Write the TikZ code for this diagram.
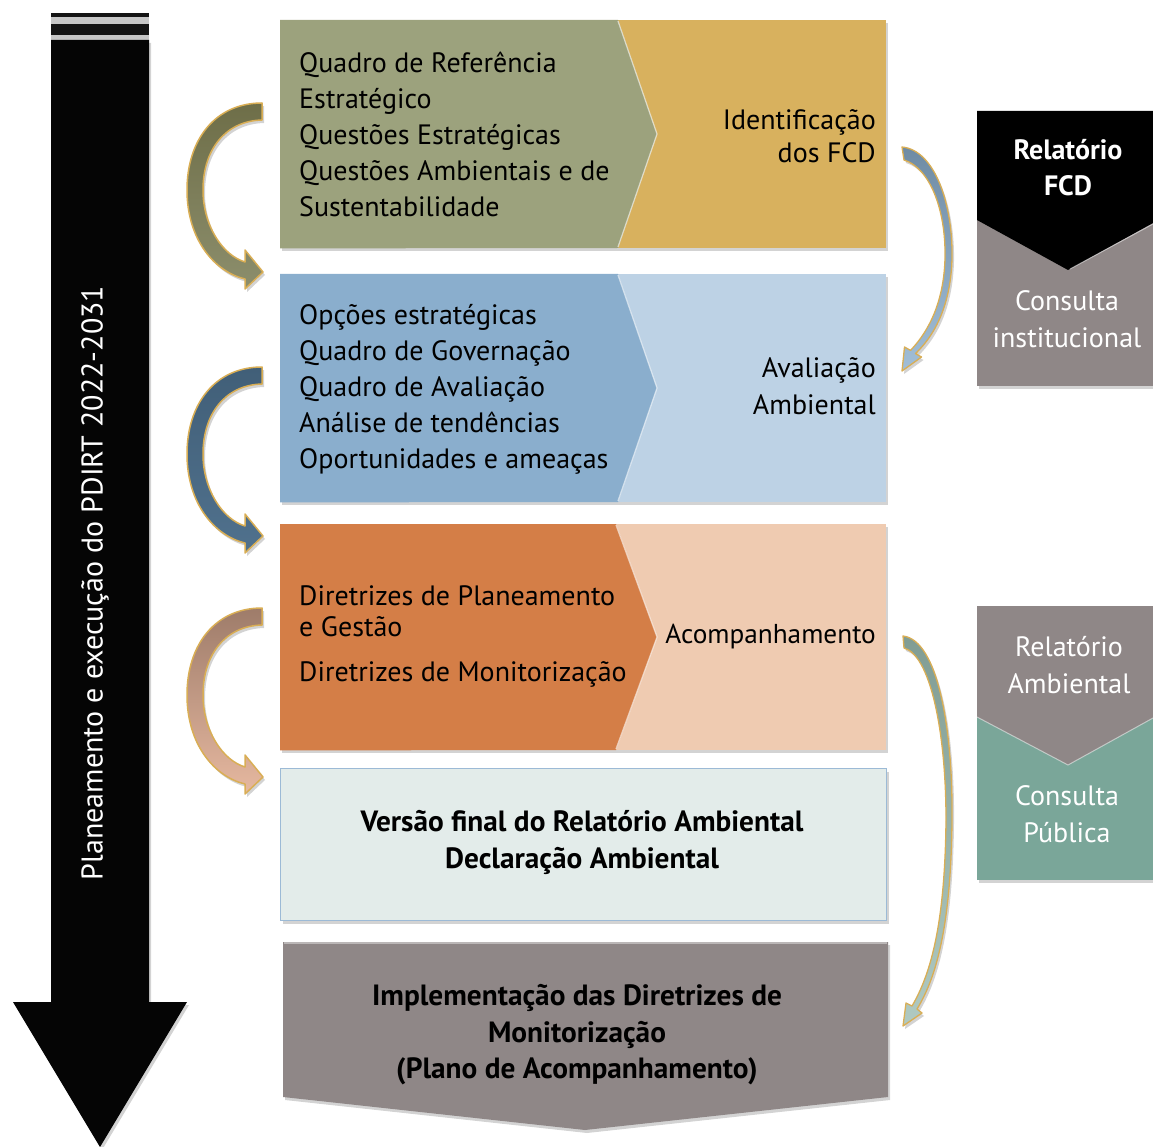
\documentclass[tikz,border=0pt]{standalone}
\usepackage{fontspec}
\setmainfont{PT Sans}
\usetikzlibrary{shadows}
\definecolor{olivebox}{HTML}{9CA27D}
\definecolor{goldbox}{HTML}{D8B15E}
\definecolor{bluebox}{HTML}{8AAECD}
\definecolor{lbluebox}{HTML}{BDD2E5}
\definecolor{orangebox}{HTML}{D47E47}
\definecolor{peachbox}{HTML}{EFCBB1}
\definecolor{palebox}{HTML}{E3ECEA}
\definecolor{paleborder}{HTML}{9CBAD6}
\definecolor{mauvebox}{HTML}{8F8787}
\definecolor{tealbox}{HTML}{7AA699}
\definecolor{goldline}{HTML}{D9AE55}
\definecolor{aoliveA}{HTML}{6E6E48}
\definecolor{aoliveB}{HTML}{C9B68E}
\definecolor{aoliveC}{HTML}{8C8E6C}
\definecolor{ablueA}{HTML}{415F78}
\definecolor{ablueB}{HTML}{93ADC3}
\definecolor{ablueC}{HTML}{50718D}
\definecolor{abrownA}{HTML}{9E7C6A}
\definecolor{abrownB}{HTML}{D8AE98}
\definecolor{abrownC}{HTML}{E6B8A0}
\begin{document}
\begin{tikzpicture}[x=1pt,y=-1pt,
  box/.style={draw=none, inner sep=0pt, anchor=north west},
  shad/.style={drop shadow={shadow xshift=2pt, shadow yshift=-3pt, opacity=0.35}},
  txt/.style={font=\fontsize{28}{36}\selectfont, inner sep=0pt, text=black},
  btxt/.style={font=\fontsize{29.3}{37}\selectfont\bfseries, inner sep=0pt, text=black, align=center},
  wtxt/.style={font=\fontsize{28}{37}\selectfont, inner sep=0pt, text=white, align=center},
  curv/.style={draw=goldline, line width=1.5pt, line join=round},
  bevel/.style={draw=white, opacity=0.6, line width=1.2pt}
]
\useasboundingbox (0,0) rectangle (1153,1147);

% ---- big black arrow ----
\fill[black!22] (51,13) rectangle (149,40);
\fill[black!92] (51,13) rectangle (149,17);
\fill[black!92] (51,24) rectangle (149,35);
\fill[black!98, shad] (51,40) -- (149,40) -- (149,1002) -- (187,1002) -- (100,1147) -- (13,1002) -- (51,1002) -- cycle;
\node[rotate=90, font=\fontsize{30}{34}\selectfont, text=white, inner sep=0pt] (vt) at (95,583) {Planeamento e execução do PDIRT 2022-2031};

% ---- box 1 ----
\node[box, fill=goldbox, minimum width=606pt, minimum height=228pt, shad] (b1) at (280,20) {};
\fill[olivebox] (b1.north west) -- (618,20) -- (657,134) -- (618,248) -- (b1.south west) -- cycle;
\draw[bevel] (618,21) -- (657,134) -- (618,247);
\node[txt, align=left, anchor=west] (t1) at (299,134) {Quadro de Referência\\Estratégico\\Questões Estratégicas\\Questões Ambientais e de\\Sustentabilidade};
\node[txt, align=right, anchor=east, font=\fontsize{28}{33}\selectfont] (t1r) at (876,136) {Identificação\\dos FCD};

% ---- box 2 ----
\node[box, fill=lbluebox, minimum width=606pt, minimum height=228pt, shad] (b2) at (280,274) {};
\fill[bluebox] (b2.north west) -- (618,274) -- (657,388) -- (618,502) -- (b2.south west) -- cycle;
\draw[bevel] (618,275) -- (657,388) -- (618,501);
\node[txt, align=left, anchor=west] (t2) at (299,389) {Opções estratégicas\\Quadro de Governação\\Quadro de Avaliação\\Análise de tendências\\Oportunidades e ameaças};
\node[txt, align=right, anchor=east, font=\fontsize{28}{37}\selectfont] (t2r) at (876,386) {Avaliação\\Ambiental};

% ---- box 3 ----
\node[box, fill=peachbox, minimum width=606pt, minimum height=226pt, shad] (b3) at (280,524) {};
\fill[orangebox] (b3.north west) -- (616,524) -- (657,637) -- (616,750) -- (b3.south west) -- cycle;
\draw[bevel] (616,525) -- (657,637) -- (616,749);
\node[txt, align=left, anchor=west, font=\fontsize{28}{31}\selectfont] (t3a) at (299,611) {Diretrizes de Planeamento\\e Gestão};
\node[txt, anchor=west] (t3b) at (299,674) {Diretrizes de Monitorização};
\node[txt, anchor=east, font=\fontsize{27.3}{33}\selectfont] (t3r) at (876,637) {Acompanhamento};

% ---- box 4 ----
\node[box, fill=palebox, draw=paleborder, line width=1.2pt, minimum width=606pt, minimum height=152pt, shad] (b4) at (280,768) {};
\node[btxt] (t4) at (582,842) {Versão final do Relatório Ambiental\\Declaração Ambiental};

% ---- box 5 (down chevron) ----
\coordinate (b5) at (585,1036);
\fill[mauvebox, shad] (283,942) -- (888,942) -- (888,1097) -- (585,1130) -- (283,1097) -- cycle;
\draw[bevel, opacity=0.4] (284,943) -- (887,943);
\node[btxt, font=\fontsize{29.3}{36.5}\selectfont\bfseries] (t5) at (577,1035) {Implementação das Diretrizes de\\Monitorização\\(Plano de Acompanhamento)};

% ---- right box 1 ----
\node[box, fill=mauvebox, minimum width=176pt, minimum height=275pt, shad] (r1) at (977,111) {};
\fill[black] (977,111) -- (1153,111) -- (1153,223) -- (1068,270) -- (977,220) -- cycle;
\draw[draw=white, opacity=0.5, line width=1pt] (1070,269) -- (1153,224);
\node[wtxt, font=\fontsize{28}{36}\selectfont\bfseries] (r1a) at (1068,168) {Relatório\\FCD};
\node[wtxt] (r1b) at (1067,319) {Consulta\\institucional};

% ---- right box 2 ----
\node[box, fill=tealbox, minimum width=176pt, minimum height=274pt, shad] (r2) at (977,606) {};
\fill[mauvebox] (977,606) -- (1153,606) -- (1153,718) -- (1068,765) -- (977,717) -- cycle;
\draw[draw=white, opacity=0.5, line width=1pt] (977,717) -- (1068,765) -- (1153,718);
\node[wtxt] (r2a) at (1069,665) {Relatório\\Ambiental};
\node[wtxt] (r2b) at (1067,814) {Consulta\\Pública};

% ---- left curved arrows ----
\def\carrow{(262,103) .. controls (215,103) and (187,140) .. (187,190)
  .. controls (187,240) and (215,272) .. (245,279)
  -- (245,289) -- (263,272) -- (245,250) -- (245,262)
  .. controls (222,255) and (203,225) .. (203,190)
  .. controls (203,150) and (225,121) .. (262,120) -- cycle}
\path[curv, top color=aoliveA, middle color=aoliveB, bottom color=aoliveC, shad] \carrow;
\begin{scope}[shift={(0,264)}]
\path[curv, top color=ablueA, middle color=ablueB, bottom color=ablueC, shad] \carrow;
\end{scope}
\begin{scope}[shift={(0,505)}]
\path[curv, top color=abrownA, middle color=abrownB, bottom color=abrownC, shad] \carrow;
\end{scope}

% ---- right thin arrows ----
\path[curv, line width=1.3pt, top color=bluebox!80!black, bottom color=bluebox!80!white, shad]
  (902,147) .. controls (935,150) and (953,205) .. (952,258)
  .. controls (951,300) and (938,332) .. (915.5,353.6)
  -- (921.5,357) -- (902,371) -- (904.5,347) -- (910.5,350.4)
  .. controls (930,330) and (944,300) .. (945,258)
  .. controls (946,210) and (930,168) .. (904,160) -- cycle;
\path[curv, line width=1.3pt, top color=tealbox!70!mauvebox, bottom color=tealbox!60!white, shad]
  (903,636) .. controls (938,640) and (953,730) .. (952,820)
  .. controls (951,920) and (938,975) .. (917,1009)
  -- (922,1013) -- (903,1026) -- (906,1003) -- (912,1006)
  .. controls (932,972) and (945,920) .. (946,820)
  .. controls (946,730) and (930,655) .. (904,648) -- cycle;
\end{tikzpicture}
\end{document}
